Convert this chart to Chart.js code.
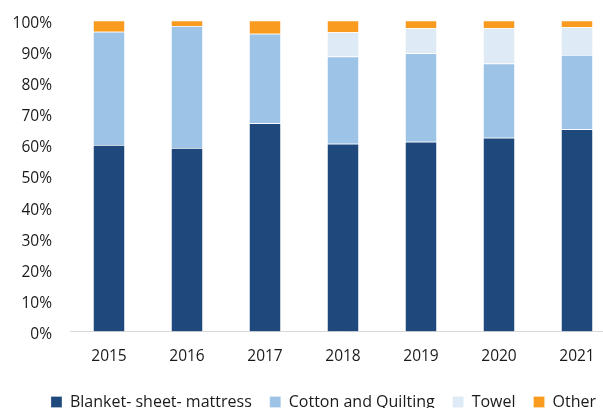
<!DOCTYPE html>
<html>
<head>
<meta charset="utf-8">
<script src="https://cdn.jsdelivr.net/npm/chart.js@4"></script>
<style>
  html, body { margin: 0; padding: 0; overflow: hidden; background: #fff; width: 603px; height: 408px; }
  #wrap { position: absolute; left: 0; top: 0; width: 647px; height: 420px; }
</style>
</head>
<body>
<div id="wrap"><canvas id="c" width="647" height="420"></canvas></div>
<script>
const years = ['2015', '2016', '2017', '2018', '2019', '2020', '2021'];
const blanketSheetMattress = [60.0, 59.0, 67.0, 60.4, 61.0, 62.3, 65.0];
const cottonAndQuilting   = [36.4, 39.2, 28.7, 28.0, 28.5, 23.9, 23.9];
const towel               = [0, 0, 0, 7.8, 8.0, 11.4, 8.9];
const other               = [3.6, 1.8, 4.3, 3.8, 2.5, 2.4, 2.2];
const seriesNames = ['Blanket- sheet- mattress', 'Cotton and Quilting', 'Towel', 'Other'];
const seriesColors = ['#1F497D', '#9DC3E6', '#DEEAF6', '#F99B1E'];

const seriesValues = [blanketSheetMattress, cottonAndQuilting, towel, other];
const FONT = '"Open Sans", sans-serif';

// centre the legend on the whole canvas width
const legendShift = {
  id: 'legendShift',
  afterLayout(chart) {
    const lg = chart.legend;
    if (!lg) return;
    const d = chart.width / 2 - (lg.left + lg.right) / 2;
    lg.left += d;
    lg.right += d;
    if (lg.legendHitBoxes) lg.legendHitBoxes.forEach(b => { b.left += d; });
  }
};

new Chart(document.getElementById('c'), {
  type: 'bar',
  data: {
    labels: years,
    datasets: seriesValues.map((vals, i) => ({
      label: seriesNames[i],
      data: vals,
      backgroundColor: seriesColors[i],
      borderColor: 'rgba(255,255,255,0.35)',
      borderWidth: 0.75,
      barPercentage: 0.41,
      categoryPercentage: 1.0
    }))
  },
  plugins: [legendShift],
  options: {
    responsive: false,
    animation: false,
    devicePixelRatio: 1,
    layout: { padding: { left: 0, right: 31, top: 20.5, bottom: 0 } },
    plugins: {
      tooltip: { enabled: false },
      legend: {
        position: 'bottom',
        align: 'center',
        labels: {
          boxWidth: 11,
          boxHeight: 11,
          padding: 18,
          color: '#1a1a1a',
          font: { family: FONT, size: 16 }
        }
      }
    },
    scales: {
      x: {
        stacked: true,
        grid: { display: false, drawTicks: false },
        border: { display: true, color: '#D9D9D9', width: 1 },
        ticks: { color: '#1a1a1a', padding: 16, font: { family: FONT, size: 15.5 } },
        afterFit: s => { s.height = 44.5; s.paddingLeft = 0; s.paddingRight = 0; }
      },
      y: {
        stacked: true,
        min: 0,
        max: 100,
        grid: { display: false, drawTicks: false },
        border: { display: false },
        ticks: {
          stepSize: 10,
          padding: 18,
          color: '#1a1a1a',
          font: { family: FONT, size: 15.5, lineHeight: '6px' },
          // empty first line nudges the visible label a few pixels down, as in the reference
          callback: v => ['', v + '%']
        },
        afterFit: s => { s.width = 70; s.paddingTop = 0; s.paddingBottom = 0; }
      }
    }
  }
});
</script>
</body>
</html>
